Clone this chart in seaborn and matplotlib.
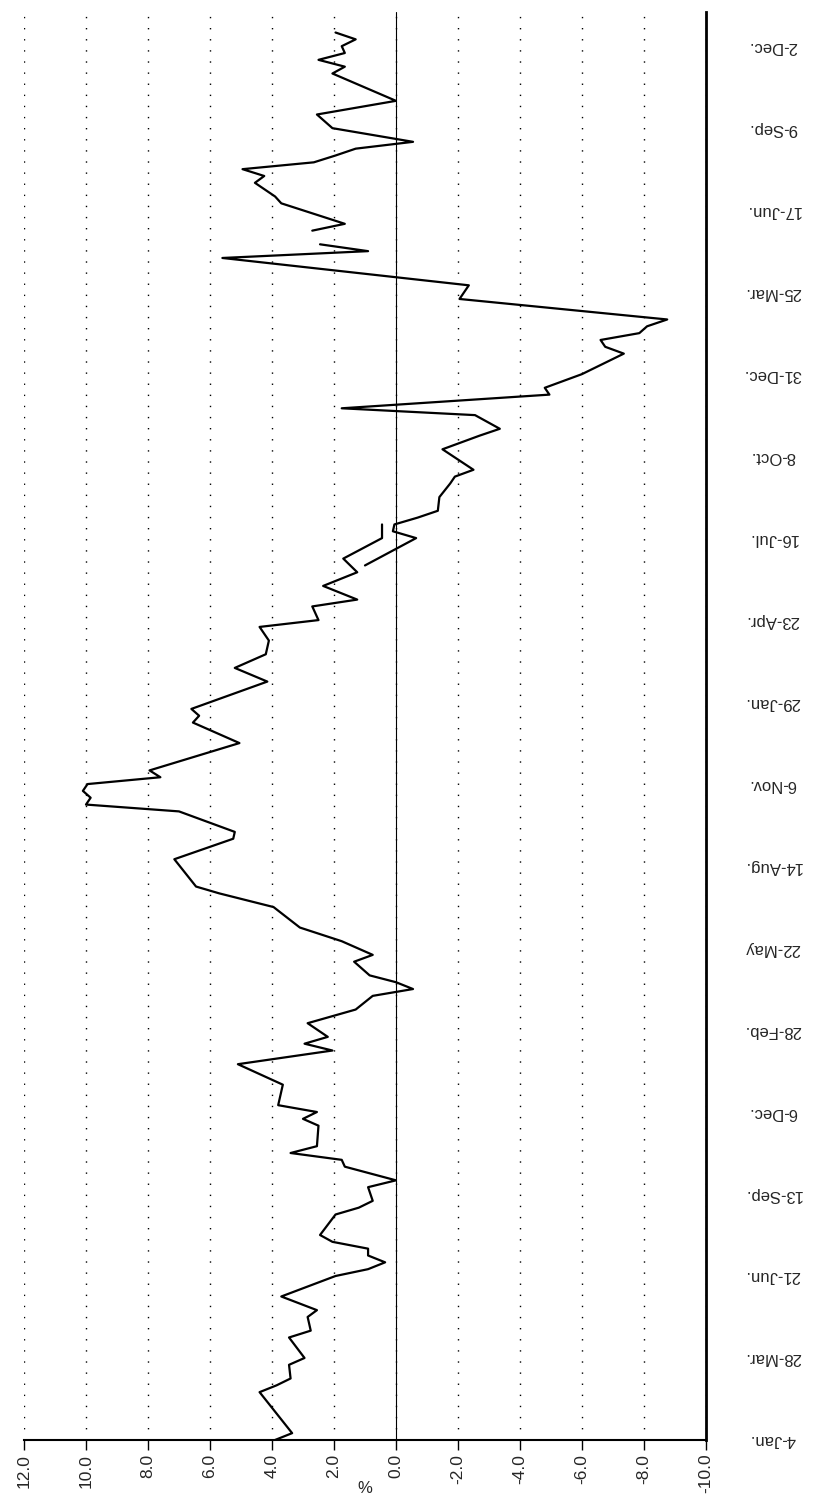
import numpy as np
import pandas as pd
import seaborn as sns
import matplotlib
matplotlib.use('Agg')
import matplotlib.pyplot as plt

# weekly series (week index from 4-Jan, value in %)
weeks_a = [0, 1, 7, 8, 9, 11, 12, 15, 16, 18, 19, 21, 24, 25, 26, 27, 28, 29, 30, 33,
           34, 35, 37, 38, 40, 41, 42, 43, 46, 47, 48, 49, 52, 55, 57, 58, 59, 61, 63, 65,
           66, 67, 68, 69, 70, 71, 73, 75, 78, 80, 81, 85, 88, 89, 92, 93, 94, 95, 96, 97,
           98, 102, 105, 106, 107, 111, 113, 115, 117, 119, 120, 122, 123, 125, 127, 129, 132, 134]
vals_a = [3.9, 3.35, 4.4, 3.85, 3.4, 3.45, 2.95, 3.45, 2.75, 2.85, 2.55, 3.7, 1.95, 0.9, 0.35, 0.9, 0.9, 2.05, 2.45, 1.95,
          1.2, 0.75, 0.9, 0.0, 1.65, 1.75, 3.4, 2.55, 2.5, 3.0, 2.55, 3.8, 3.65, 5.1, 2.05, 2.95, 2.2, 2.85, 1.3, 0.75,
          -0.55, 0.0, 0.85, 1.1, 1.35, 0.75, 1.75, 3.1, 3.95, 5.7, 6.45, 7.15, 5.25, 5.2, 7.0, 10.0, 9.85, 10.1, 9.95, 7.6,
          7.95, 5.05, 6.55, 6.35, 6.6, 4.15, 5.2, 4.2, 4.1, 4.4, 2.5, 2.7, 1.25, 2.35, 1.25, 1.7, 0.45, 0.45]

weeks_b = [128, 132, 133, 134, 135, 136, 138, 140, 141, 142, 145, 147, 148, 150, 151, 153, 154, 156, 159, 160,
           161, 162, 163, 164, 167, 169, 173, 174, 175]
vals_b = [1.0, -0.65, 0.1, 0.05, -0.7, -1.35, -1.4, -1.75, -1.9, -2.5, -1.5, -2.7, -3.35, -2.55, 1.75, -4.95, -4.8, -6.0, -7.35, -6.75,
          -6.6, -7.85, -8.1, -8.75, -2.05, -2.35, 5.6, 0.9, 2.45]

weeks_c = [177, 178, 181, 182, 184, 185, 186, 187, 188, 189, 190, 192, 194, 196, 200, 201, 202, 203, 204, 205, 206]
vals_c = [2.7, 1.65, 3.7, 3.9, 4.55, 4.25, 4.95, 2.65, 1.95, 1.3, -0.55, 2.05, 2.55, 0.0, 2.05, 1.65, 2.5, 1.65, 1.75, 1.3, 1.95]

date_labels = ['4-Jan.', '28-Mar.', '21-Jun.', '13-Sep.', '6-Dec.', '28-Feb.', '22-May', '14-Aug.', '6-Nov.',
               '29-Jan.', '23-Apr.', '16-Jul.', '8-Oct.', '31-Dec.', '25-Mar.', '17-Jun.', '9-Sep.', '2-Dec.']
date_ticks = [12 * i for i in range(len(date_labels))]
pct_ticks = [12.0, 10.0, 8.0, 6.0, 4.0, 2.0, 0.0, -2.0, -4.0, -6.0, -8.0, -10.0]

df = pd.concat([
    pd.DataFrame({'week': weeks_a, 'pct': vals_a, 'seg': 'a'}),
    pd.DataFrame({'week': weeks_b, 'pct': vals_b, 'seg': 'b'}),
    pd.DataFrame({'week': weeks_c, 'pct': vals_c, 'seg': 'c'}),
], ignore_index=True)

sns.set_style('white')
plt.rcParams['font.family'] = ['Liberation Sans', 'DejaVu Sans']
plt.rcParams['axes.unicode_minus'] = False

fig = plt.figure(figsize=(8.33, 15.02), dpi=100)
ax = fig.add_axes([0.0288, 0.0413, 0.8187, 0.9507])

# dotted grid + solid zero line
ax.grid(axis='x', color='black', linestyle=(0, (1, 7)), linewidth=1.0)
ax.grid(axis='y', visible=False)
ax.set_axisbelow(True)
ax.axvline(0, color='black', lw=0.8, zorder=1)

sns.lineplot(data=df, x='pct', y='week', units='seg', estimator=None, sort=False,
             orient='y', color='black', lw=1.6, ax=ax)

ax.set_xlim(12, -10)
ax.set_ylim(0, 209)

ax.set_xticks(pct_ticks)
ax.set_xticklabels([f'{v:.1f}' for v in pct_ticks], rotation=90, fontsize=12.5)
ax.set_yticks(date_ticks)
ax.set_yticklabels(date_labels, rotation=180, ha='center', va='center', fontsize=12)
ax.yaxis.tick_right()
ax.tick_params(axis='y', length=0, pad=48)
ax.tick_params(axis='x', direction='out', length=7, width=1, pad=3, color='black', bottom=True)

ax.set_xlabel('%', fontsize=12)
ax.xaxis.set_label_coords(0.5, -0.029)
ax.set_ylabel('')

for s in ['left', 'top']:
    ax.spines[s].set_visible(False)
ax.spines['bottom'].set_color('black')
ax.spines['bottom'].set_linewidth(1.5)
ax.spines['right'].set_color('black')
ax.spines['right'].set_linewidth(2)

plt.savefig('out.png', dpi=100)
